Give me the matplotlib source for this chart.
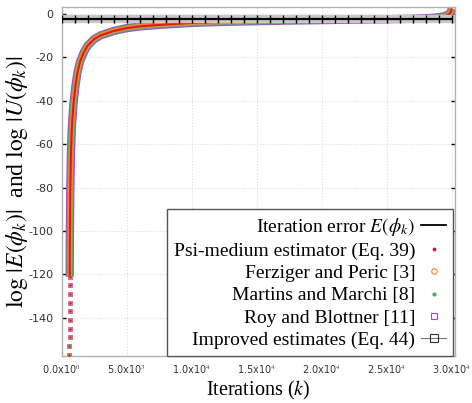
import matplotlib
matplotlib.use("Agg")
import matplotlib.pyplot as plt
from matplotlib.lines import Line2D
import numpy as np

plt.rcParams['mathtext.fontset'] = 'stix'

# ---- data ----
iter_k = [585, 588, 591, 593, 595, 597, 599, 601, 603, 605,
          615, 650, 700, 780, 900, 1050, 1200, 1400, 1700, 2000,
          2500, 3000, 4000, 5000, 6000, 7500, 10000, 12500, 15000,
          17500, 20000, 22500, 25000, 27000, 28500, 29300, 29700,
          29900, 30000]
log_err = [-157, -153, -149, -145, -141, -137, -133, -129, -125, -121,
           -105, -82, -64, -51, -41, -33, -27, -22, -17.5, -14.5,
           -11.5, -9.8, -7.8, -6.5, -5.7, -5.0, -4.1, -3.6, -3.3,
           -3.0, -2.8, -2.6, -2.4, -2.2, -1.8, -1.2, -0.5,
           0.5, 2.5]

improved_k = [0, 1000, 2000, 3000, 4000, 5000, 6000, 7000, 8000, 9000,
              10000, 11000, 12000, 13000, 14000, 15000, 16000, 17000,
              18000, 19000, 20000, 21000, 22000, 23000, 24000, 25000,
              26000, 27000, 28000, 29000, 30000]
improved_y = [-2.1, -2.1, -2.1, -2.1, -2.1, -2.1, -2.1, -2.1, -2.1, -2.1,
              -2.1, -2.1, -2.1, -2.1, -2.1, -2.1, -2.1, -2.1, -2.1,
              -2.1, -2.1, -2.1, -2.1, -2.1, -2.1, -2.1, -2.1, -2.1,
              -2.1, -2.1, -2.1]

xticks = [0, 5000, 10000, 15000, 20000, 25000, 30000]
xtick_labels = [r'0.0x10$^{0}$', r'5.0x10$^{3}$', r'1.0x10$^{4}$', r'1.5x10$^{4}$',
                r'2.0x10$^{4}$', r'2.5x10$^{4}$', r'3.0x10$^{4}$']
yticks = [0, -20, -40, -60, -80, -100, -120, -140]

labels = ['Iteration error $E(\\phi_k)$', 'Psi-medium estimator (Eq. 39)',
          'Ferziger and Peric [3]', 'Martins and Marchi [8]',
          'Roy and Blottner [11]', 'Improved estimates (Eq. 44)']

c_red = '#e8141c'
c_orange = '#f4892a'
c_green = '#3fb56a'
c_purple = '#a848d0'

fig = plt.figure(figsize=(4.72, 4.03), dpi=100)
ax = fig.add_axes([0.131, 0.117, 0.833, 0.866])

k = np.array(iter_k)
y = np.array(log_err)
line_mask = y >= -121
tail_mask = y <= -121

# band of curves (overlapping estimators)
ax.plot(k[line_mask], y[line_mask], color=c_purple, lw=6.0, solid_capstyle='butt', zorder=2)
ax.plot(k[line_mask], y[line_mask], color=c_green, lw=4.6, solid_capstyle='butt', zorder=3)
ax.plot(k[line_mask], y[line_mask], color=c_orange, lw=3.3, solid_capstyle='butt', zorder=4)
ax.plot(k[line_mask], y[line_mask], color=c_red, lw=1.5, solid_capstyle='butt', zorder=5)
# tail markers
ax.plot(k[tail_mask], y[tail_mask], ls='none', marker='s', mfc='none', mec=c_purple, ms=3.5, mew=0.6, zorder=2)
ax.plot(k[tail_mask], y[tail_mask], ls='none', marker='o', mfc='none', mec=c_orange, ms=2.5, mew=0.6, zorder=3)
ax.plot(k[tail_mask], y[tail_mask], ls='none', marker='.', color=c_green, ms=2, zorder=4)
ax.plot(k[tail_mask], y[tail_mask], ls='none', marker='.', color=c_red, ms=1.5, zorder=5)

# improved estimates band + black line with ticks
ax.plot(improved_k, improved_y, color='#c8c8c8', lw=6, zorder=6)
ax.plot(improved_k, improved_y, color='black', lw=1.6, marker='|', ms=6, mew=1.0, zorder=7)

ax.set_xlim(0, 30250)
ax.set_ylim(-157.5, 3.3)
ax.set_xticks(xticks)
ax.set_xticklabels(xtick_labels, fontsize=7, color='#333333')
ax.set_yticks(yticks)
ax.set_yticklabels([str(v) for v in yticks], fontsize=8, color='#333333')
ax.tick_params(axis='both', direction='in', length=3, width=1, color='black',
               top=True, right=True, pad=6)
ax.tick_params(axis='x', length=0, pad=5)
ax.grid(True, color='#dcdcdc', ls=':', lw=0.8)
for s in ax.spines.values():
    s.set_color('#b0b0b0')
    s.set_linewidth(1)

ax.set_xlabel('Iterations ($k$)', family='Liberation Serif', fontsize=14.5, labelpad=2)
ax.set_ylabel(r'$\log\,|E(\phi_k)|$  and $\log\,|U(\phi_k)|$', family='Liberation Serif',
              fontsize=17)
ax.yaxis.set_label_coords(-0.08, 0.5)

handles = [
    Line2D([], [], color='black', lw=1.3),
    Line2D([], [], ls='none', marker='.', color=c_red, ms=3.5),
    Line2D([], [], ls='none', marker='o', mfc='none', mec=c_orange, ms=4, mew=0.8),
    Line2D([], [], ls='none', marker='.', color=c_green, ms=4),
    Line2D([], [], ls='none', marker='s', mfc='none', mec=c_purple, ms=5, mew=0.8),
    Line2D([], [], color='#777777', lw=0.8, marker='s', mfc='none', mec='#333333', ms=6, mew=0.8),
]
leg = ax.legend(handles, labels, loc='lower right', bbox_to_anchor=(0.995, 0.0),
                markerfirst=False, frameon=True, fancybox=False, framealpha=1,
                edgecolor='#555555', borderaxespad=0.0, handlelength=1.3,
                handletextpad=0.3, labelspacing=0.24, borderpad=0.35,
                prop={'family': 'Liberation Serif', 'size': 14.0})
leg.get_frame().set_linewidth(1.0)
leg.set_zorder(10)

fig.savefig('out.png', dpi=100)
